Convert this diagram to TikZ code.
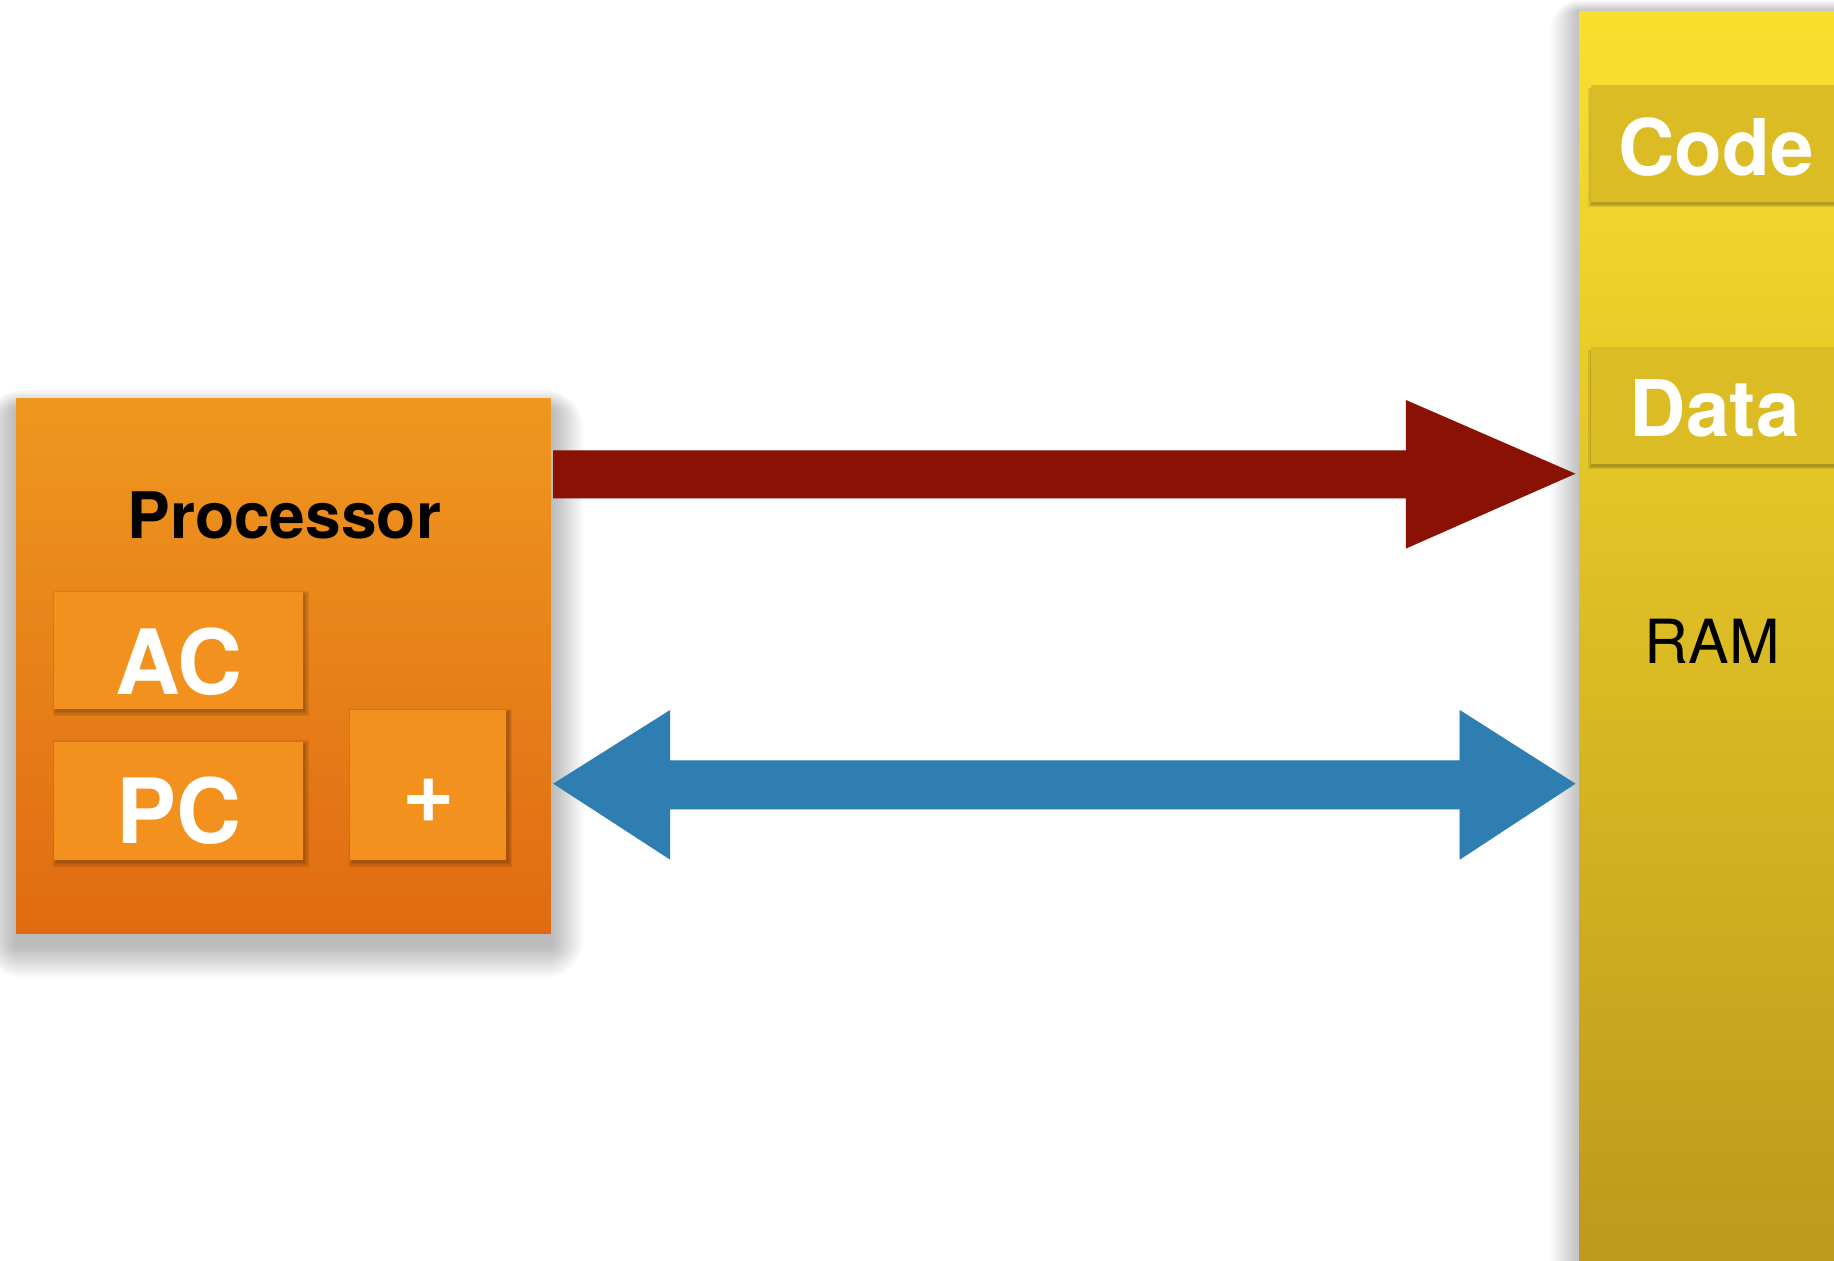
\documentclass[tikz,border=0pt]{standalone}
\usepackage{fontspec}
\setmainfont{TeX Gyre Heros}
\usetikzlibrary{calc,fit}
\definecolor{proctop}{HTML}{EF971F}
\definecolor{procbot}{HTML}{E06B12}
\definecolor{regfill}{HTML}{F2911D}
\definecolor{redarrow}{HTML}{8A1204}
\definecolor{bluearrow}{HTML}{2F7EB1}
\definecolor{ramtop}{HTML}{FADF2E}
\definecolor{rambot}{HTML}{BE991B}
\definecolor{cellfill}{HTML}{DBBC24}
\tikzset{
  procfont/.style={font=\fontsize{15.6pt}{18pt}\selectfont\bfseries, text=black, inner sep=0},
  regfont/.style={font=\fontsize{21.9pt}{24pt}\selectfont\bfseries, text=white, inner sep=0},
  cellfont/.style={font=\fontsize{19pt}{22pt}\selectfont\bfseries, text=white, inner sep=0},
  ramfont/.style={font=\fontsize{14.8pt}{17pt}\selectfont, text=black, inner sep=0},
  regbox/.style={inner sep=0, fill=regfill},
  cellbox/.style={inner sep=0, fill=cellfill},
}
\begin{document}
\begin{tikzpicture}[x=0.1mm,y=-0.1mm]
\useasboundingbox (0,0) rectangle (1568,1078);
\fill[white] (0,0) rectangle (1568,1078);

% ---------- RAM column ----------
\foreach \i in {2,4,...,24} \fill[black,opacity=0.02,rounded corners=\i*0.1mm] ({1350-\i},{10-\i*0.4}) rectangle (1600,1100);
\node[fit={(1350,10)(1568,1078)}, inner sep=0, top color=ramtop, bottom color=rambot] (ram) {};
\foreach \i in {1,2,3} \fill[black,opacity=0.09] ({1361-\i},{75}) rectangle (1600,{174+\i});
\node[cellbox, fit={(1360,73)(1568,173)}] (codebox) {};
\node[cellfont, anchor=base] (codelbl) at (1467,150) {Code};
\foreach \i in {1,2,3} \fill[black,opacity=0.09] ({1361-\i},{299}) rectangle (1600,{398+\i});
\node[cellbox, fit={(1360,297)(1568,397)}] (databox) {};
\node[cellfont, anchor=base] (datalbl) at (1466,373) {Data};
\node[ramfont, anchor=base] (ramlbl) at (1464,567) {RAM};

% ---------- Processor ----------
\foreach \i in {2,4,...,28} \fill[black,opacity=0.018,rounded corners=\i*0.12mm] ({14-\i},{350-\i*0.6}) rectangle ({471+\i},{808+\i});
\node[fit={(14,341)(471,798)}, inner sep=0, top color=proctop, bottom color=procbot] (proc) {};
\node[procfont, anchor=base] (proclbl) at (243,460) {Processor};

\foreach \i in {1,2,3,4} \fill[black,opacity=0.07] ({46+3-\i},{506+3-\i}) rectangle ({259+1+\i},{606+2+\i});
\node[regbox, fit={(46,506)(259,606)}] (acbox) {};
\node[regfont, anchor=base] (aclbl) at (153,594) {AC};

\foreach \i in {1,2,3,4} \fill[black,opacity=0.07] ({46+3-\i},{634+3-\i}) rectangle ({259+1+\i},{735+2+\i});
\node[regbox, fit={(46,634)(259,735)}] (pcbox) {};
\node[regfont, anchor=base] (pclbl) at (153,721) {PC};

\foreach \i in {1,2,3,4} \fill[black,opacity=0.07] ({299+3-\i},{607+3-\i}) rectangle ({433+1+\i},{735+2+\i});
\node[regbox, fit={(299,607)(433,735)}] (addbox) {};
\node[regfont, anchor=base] (addlbl) at (367,703) {+};

% ---------- arrows ----------
\coordinate (rs) at (473,405);
\coordinate (re) at (1347,405);
\coordinate (bs) at (473,670);
\coordinate (be) at (1347,670);

\fill[black,opacity=0.12,shift={(2,3)}]
  ($(rs)+(0,-20)$) -- ($(re)+(-145,-20)$) -- ($(re)+(-145,-63)$) -- (re)
  -- ($(re)+(-145,64)$) -- ($(re)+(-145,21)$) -- ($(rs)+(0,21)$) -- cycle;
\fill[redarrow]
  ($(rs)+(0,-20)$) -- ($(re)+(-145,-20)$) -- ($(re)+(-145,-63)$) -- (re)
  -- ($(re)+(-145,64)$) -- ($(re)+(-145,21)$) -- ($(rs)+(0,21)$) -- cycle;

\fill[black,opacity=0.12,shift={(2,3)}]
  (bs) -- ($(bs)+(100,-63)$) -- ($(bs)+(100,-20)$) -- ($(be)+(-99,-20)$) -- ($(be)+(-99,-63)$)
  -- (be) -- ($(be)+(-99,65)$) -- ($(be)+(-99,22)$) -- ($(bs)+(100,22)$) -- ($(bs)+(100,65)$) -- cycle;
\fill[bluearrow]
  (bs) -- ($(bs)+(100,-63)$) -- ($(bs)+(100,-20)$) -- ($(be)+(-99,-20)$) -- ($(be)+(-99,-63)$)
  -- (be) -- ($(be)+(-99,65)$) -- ($(be)+(-99,22)$) -- ($(bs)+(100,22)$) -- ($(bs)+(100,65)$) -- cycle;
\end{tikzpicture}
\end{document}
